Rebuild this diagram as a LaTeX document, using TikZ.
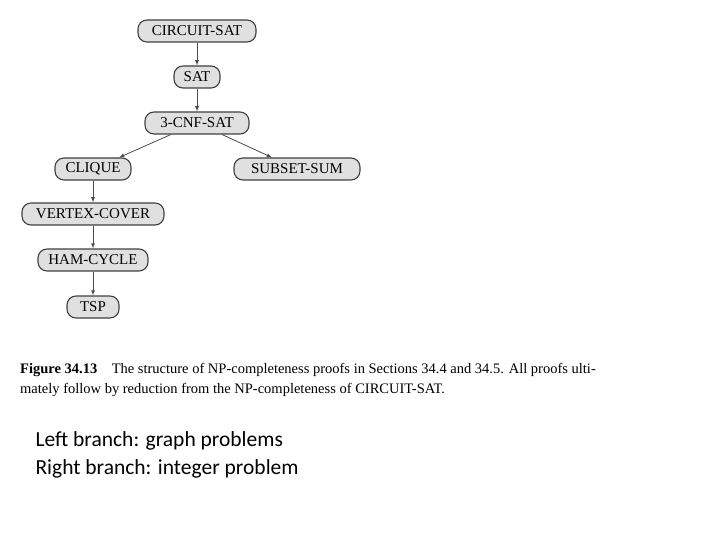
\documentclass[tikz,border=0pt]{standalone}
\usepackage{fontspec}
\setmainfont{Liberation Serif}
\newfontfamily\calfont{Carlito}
\begin{document}
\begin{tikzpicture}[x=1pt,y=-1pt,
 nd/.style={draw=black!75,fill=black!12,rounded corners=9pt,minimum height=22pt,inner xsep=4pt,line width=1.1pt,font=\fontsize{15}{17}\selectfont},
 ar/.style={-latex,black!70,line width=0.8pt}]
\useasboundingbox (0,0) rectangle (720,540);
\node[nd,minimum width=118pt] (cs) at (197,31) {CIRCUIT-SAT};
\node[nd,minimum width=46pt] (sat) at (197,77) {SAT};
\node[nd,minimum width=104pt] (cnf) at (197,123) {3-CNF-SAT};
\node[nd,minimum width=76pt] (cl) at (93,169) {CLIQUE};
\node[nd,minimum width=126pt] (ss) at (297,169) {SUBSET-SUM};
\node[nd,minimum width=142pt] (vc) at (93,214) {VERTEX-COVER};
\node[nd,minimum width=110pt] (hc) at (93,260) {HAM-CYCLE};
\node[nd,minimum width=52pt] (tsp) at (93,307) {TSP};
\draw[ar] (cs) -- (sat);
\draw[ar] (sat) -- (cnf);
\draw[ar] (cnf) -- (cl);
\draw[ar] (cnf) -- (ss);
\draw[ar] (cl) -- (vc);
\draw[ar] (vc) -- (hc);
\draw[ar] (hc) -- (tsp);
\node[anchor=west,font=\fontsize{14.5}{20}\selectfont,align=left,inner sep=0pt] (cap) at (20,380)
 {\textbf{Figure 34.13}\quad The structure of NP-completeness proofs in Sections 34.4 and 34.5. All proofs ulti-\\mately follow by reduction from the NP-completeness of CIRCUIT-SAT.};
\node[anchor=north west,font=\calfont\fontsize{21.5}{28}\selectfont,align=left] (txt) at (32,428)
 {Left branch: graph problems\\Right branch: integer problem};
\end{tikzpicture}
\end{document}
